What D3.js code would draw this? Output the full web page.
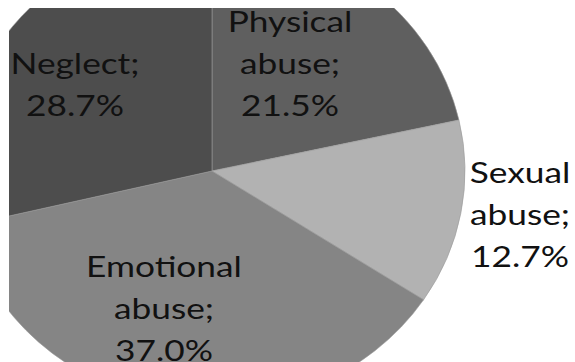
<!DOCTYPE html>
<html>
<head>
<meta charset="utf-8">
<script src="https://cdn.jsdelivr.net/npm/d3@7"></script>
<style>
  html, body { margin: 0; padding: 0; background: #fff; }
  svg { display: block; }
</style>
</head>
<body>
<svg id="chart" width="575" height="362"></svg>
<script>
// ---- data (clockwise from 12 o'clock) ----
const categories = ["Physical abuse", "Sexual abuse", "Emotional abuse", "Neglect"];
const values = [21.5, 12.7, 37.0, 28.7];
const colors = ["#5f5f5f", "#b2b2b2", "#858585", "#4d4d4d"];

// ---- layout ----
const W = 575, H = 362;
const cx = 212, cy = 171, rx = 253, ry = 235;
const lineGap = 42;
const fontSize = 28, stretchX = 1.26;
// first-baseline anchor of each label, relative to pie centre
const labelOffsets = [[78, -139], [308, 12], [-48, 106], [-137, -97]];

const svg = d3.select("#chart");

svg.append("defs").append("clipPath").attr("id", "clip")
  .append("rect").attr("x", 9).attr("y", 8).attr("width", W - 9).attr("height", H - 8);

const data = categories.map((c, i) => ({ cat: c, value: values[i], color: colors[i], off: labelOffsets[i] }));

const pie = d3.pie().value(d => d.value).sort(null).startAngle(0).endAngle(2 * Math.PI);
const arc = d3.arc().innerRadius(0).outerRadius(rx);

const g = svg.append("g").attr("clip-path", "url(#clip)")
  .append("g").attr("transform", `translate(${cx},${cy}) scale(1,${ry / rx})`);

g.selectAll("path").data(pie(data)).join("path")
  .attr("d", arc)
  .attr("fill", d => d.data.color)
  .attr("stroke", "#9a9a9a")
  .attr("stroke-width", 0.6)
  .attr("vector-effect", "non-scaling-stroke");

const fmt = d3.format(".1f");
const labels = svg.append("g")
  .attr("font-family", "Lato, 'Open Sans', sans-serif")
  .attr("font-size", fontSize)
  .attr("fill", "#111")
  .attr("text-anchor", "middle");

data.forEach(d => {
  const words = d.cat.split(" ");
  words[words.length - 1] += ";";
  const lines = words.concat([fmt(d.value) + "%"]);
  const t = labels.append("text")
    .attr("transform", `translate(${cx + d.off[0]},${cy + d.off[1]}) scale(${stretchX},1)`);
  lines.forEach((ln, i) => {
    t.append("tspan").attr("x", 0).attr("y", i * lineGap).text(ln);
  });
});
</script>
</body>
</html>
